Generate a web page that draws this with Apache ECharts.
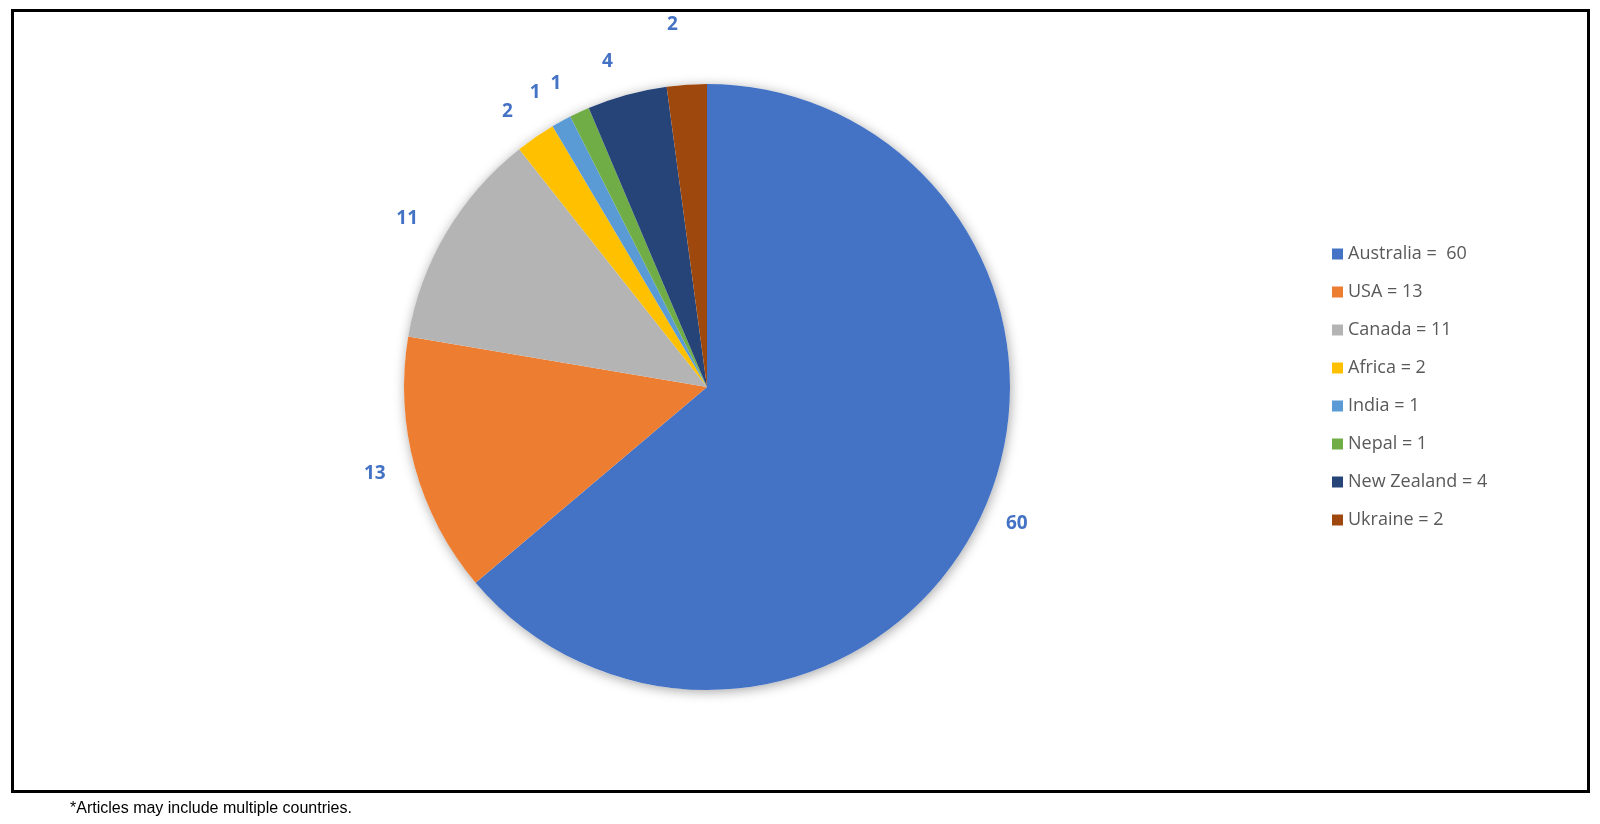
<!DOCTYPE html>
<html>
<head>
<meta charset="utf-8">
<script src="https://cdn.jsdelivr.net/npm/echarts@6/dist/echarts.min.js"></script>
<style>
  html, body { margin: 0; padding: 0; background: #fff; }
  #pie-chart { width: 1600px; height: 824px; }
</style>
</head>
<body>
<div id="pie-chart"></div>
<script>
// countries, clockwise from 12 o'clock
const countries = ['Australia', 'USA', 'Canada', 'Africa', 'India', 'Nepal', 'New Zealand', 'Ukraine']
const articles = [60, 13, 11, 2, 1, 1, 4, 2]
const legendLabels = ['Australia =  60', 'USA = 13', 'Canada = 11', 'Africa = 2', 'India = 1', 'Nepal = 1', 'New Zealand = 4', 'Ukraine = 2']
const colors = ['#4472C4', '#ED7D31', '#B4B4B4', '#FFC000', '#5B9BD5', '#70AD47', '#264478', '#9E480E']
// how far each value label sits outside the rim
const labelGap = [21, 25, 27, 31, 33, 31, 34, 60]

const myChart = echarts.init(document.getElementById('pie-chart'))

const option = {
  animation: false,
  color: colors,
  title: {
    text: '*Articles may include multiple countries.',
    left: 70,
    top: 801,
    padding: 0,
    textStyle: {
      fontFamily: 'Liberation Sans',
      fontWeight: 'normal',
      fontSize: 16,
      color: '#000'
    }
  },
  legend: {
    orient: 'vertical',
    left: 1332,
    top: 245,
    padding: 0,
    icon: 'rect',
    itemWidth: 11,
    itemHeight: 11,
    itemGap: 20,
    data: countries,
    formatter: (name) => legendLabels[countries.indexOf(name)],
    textStyle: {
      fontFamily: 'Open Sans',
      fontSize: 18,
      lineHeight: 18,
      color: '#595959',
      padding: [0, 0, 0, 0]
    }
  },
  graphic: [{
    type: 'rect',
    shape: { x: 12.5, y: 10.5, width: 1576, height: 781 },
    style: { fill: 'none', stroke: '#000', lineWidth: 3 },
    silent: true
  }],
  series: [{
    // soft shadow under the pie
    type: 'pie',
    silent: true,
    center: [707, 387],
    radius: 303,
    z: 1,
    label: { show: false },
    labelLine: { show: false },
    itemStyle: {
      color: '#fff',
      shadowBlur: 12,
      shadowOffsetX: 1,
      shadowOffsetY: 2,
      shadowColor: 'rgba(0,0,0,0.35)'
    },
    data: [{ value: 1, name: '' }]
  }, {
    type: 'pie',
    center: [707, 387],
    radius: 303,
    startAngle: 90,
    clockwise: true,
    z: 2,
    avoidLabelOverlap: false,
    label: {
      show: true,
      position: 'outside',
      formatter: '{c}',
      color: '#4472C4',
      fontFamily: 'Open Sans',
      fontWeight: 'bold',
      fontSize: 19
    },
    labelLine: { show: false, length: 23, length2: 0 },
    itemStyle: { borderWidth: 0 },
    data: countries.map((name, i) => ({
      name,
      value: articles[i],
      labelLine: { show: false, length: labelGap[i], length2: 0 }
    }))
  }]
}

myChart.setOption(option)
</script>
</body>
</html>
